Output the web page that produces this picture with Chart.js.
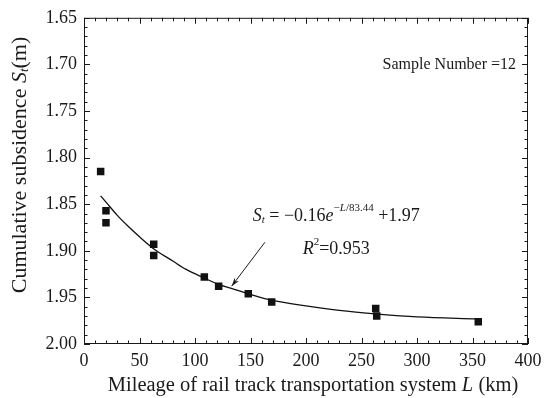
<!DOCTYPE html>
<html>
<head>
<meta charset="utf-8">
<script src="https://cdn.jsdelivr.net/npm/chart.js@4"></script>
<style>
  body { margin: 0; background: #fff; }
  #wrap { width: 548px; height: 398px; }
</style>
</head>
<body>
<div id="wrap"><canvas id="chart" width="548" height="398"></canvas></div>
<script>
// Measured samples (mileage in km, cumulative subsidence in m)
const mileage = [15.0, 19.8, 19.8, 62.8, 62.8, 108.4, 121.3, 148.0, 169.1, 262.8, 263.7, 355.2];
const subsidence = [1.815, 1.857, 1.870, 1.893, 1.905, 1.928, 1.938, 1.946, 1.955, 1.962, 1.970, 1.976];

// Fitted curve
const fitL = [15, 20, 30, 40, 50, 63, 80, 92, 108, 121, 132, 148, 169, 200, 230, 265, 300, 354];
const fitS = [1.841, 1.848, 1.862, 1.874, 1.885, 1.898, 1.911, 1.920, 1.929, 1.936, 1.940, 1.946, 1.953, 1.959, 1.964, 1.968, 1.971, 1.973];

// Axis ticks
const xTicks = [0, 50, 100, 150, 200, 250, 300, 350, 400];
const yTicks = [1.65, 1.70, 1.75, 1.80, 1.85, 1.90, 1.95, 2.00];

const FONT = '"Liberation Serif", "Times New Roman", serif';
const INK = '#1a1a1a';

function toPoints(xs, ys) {
  return xs.map((x, i) => ({ x: x, y: ys[i] }));
}

// draws text pieces one after another: [text, italic, shift, size]
function drawRuns(ctx, runs, x, y) {
  runs.forEach(r => {
    ctx.font = (r[1] ? 'italic ' : '') + r[3] + 'px ' + FONT;
    ctx.fillText(r[0], x, y + r[2]);
    x += ctx.measureText(r[0]).width;
  });
  return x;
}
function runsWidth(ctx, runs) {
  let w = 0;
  runs.forEach(r => {
    ctx.font = (r[1] ? 'italic ' : '') + r[3] + 'px ' + FONT;
    w += ctx.measureText(r[0]).width;
  });
  return w;
}

const decorations = {
  id: 'decorations',
  afterDraw(chart) {
    const ctx = chart.ctx;
    const a = chart.chartArea;
    const xs = chart.scales.x;
    const ys = chart.scales.y;
    ctx.save();
    ctx.strokeStyle = INK;
    ctx.fillStyle = INK;
    ctx.lineWidth = 1;

    // frame
    ctx.strokeRect(a.left + 0.5, a.top + 0.5, a.right - a.left - 1, a.bottom - a.top - 1);

    // inward ticks on all four sides
    ctx.beginPath();
    for (let v = 0; v <= 400; v += 10) {
      const px = Math.round(xs.getPixelForValue(v)) + 0.5;
      const len = v % 50 === 0 ? 6 : 3.5;
      ctx.moveTo(px, a.bottom); ctx.lineTo(px, a.bottom - len);
      ctx.moveTo(px, a.top); ctx.lineTo(px, a.top + len);
    }
    for (let k = 165; k <= 200; k++) {
      const py = Math.round(ys.getPixelForValue(k / 100)) + 0.5;
      const len = k % 5 === 0 ? 6 : 3.5;
      ctx.moveTo(a.left, py); ctx.lineTo(a.left + len, py);
      ctx.moveTo(a.right, py); ctx.lineTo(a.right - len, py);
    }
    ctx.stroke();

    ctx.textBaseline = 'middle';
    ctx.textAlign = 'left';

    // sample count
    ctx.font = '16px ' + FONT;
    ctx.fillText('Sample Number =12', xs.getPixelForValue(269), ys.getPixelForValue(1.70));

    // fitted equation
    drawRuns(ctx, [
      ['S', true, 0, 18], ['t', true, 4, 11], [' = \u22120.16', false, 0, 18],
      ['e', true, 0, 18], ['\u2212', false, -8, 11], ['L', true, -8, 11], ['/83.44', false, -8, 11],
      [' +1.97', false, 0, 18]
    ], xs.getPixelForValue(152), ys.getPixelForValue(1.863));

    drawRuns(ctx, [
      ['R', true, 0, 18], ['2', false, -7, 11], ['=0.953', false, 0, 18]
    ], xs.getPixelForValue(197), ys.getPixelForValue(1.898));

    // arrow pointing at the curve
    const x0 = xs.getPixelForValue(163), y0 = ys.getPixelForValue(1.8908);
    const x1 = xs.getPixelForValue(133), y1 = ys.getPixelForValue(1.938);
    const ang = Math.atan2(y1 - y0, x1 - x0);
    ctx.beginPath();
    ctx.moveTo(x0, y0); ctx.lineTo(x1, y1);
    ctx.stroke();
    ctx.beginPath();
    ctx.moveTo(x1, y1);
    ctx.lineTo(x1 - 9 * Math.cos(ang - 0.3), y1 - 9 * Math.sin(ang - 0.3));
    ctx.lineTo(x1 - 6 * Math.cos(ang), y1 - 6 * Math.sin(ang));
    ctx.lineTo(x1 - 9 * Math.cos(ang + 0.3), y1 - 9 * Math.sin(ang + 0.3));
    ctx.closePath();
    ctx.fill();

    // x axis title
    const xRuns = [['Mileage of rail track transportation system ', false, 0, 20.5], ['L', true, 0, 20.5], [' (km)', false, 0, 20.5]];
    const xw = runsWidth(ctx, xRuns);
    drawRuns(ctx, xRuns, (a.left + a.right) / 2 + 7 - xw / 2, 386);

    // y axis title
    const yRuns = [['Cumulative subsidence ', false, 0, 22], ['S', true, 0, 22], ['t', true, 5, 13], ['(m)', false, 0, 22]];
    const yw = runsWidth(ctx, yRuns);
    ctx.translate(20, 165);
    ctx.rotate(-Math.PI / 2);
    drawRuns(ctx, yRuns, -yw / 2, 0);

    ctx.restore();
  }
};

new Chart(document.getElementById('chart'), {
  type: 'scatter',
  data: {
    datasets: [
      {
        label: 'Measured',
        data: toPoints(mileage, subsidence),
        pointStyle: 'rect',
        pointRadius: 5.3,
        pointHoverRadius: 5.3,
        backgroundColor: '#111',
        borderColor: '#111',
        borderWidth: 0
      },
      {
        label: 'Fit',
        type: 'line',
        data: toPoints(fitL, fitS),
        showLine: true,
        pointRadius: 0,
        borderColor: '#111',
        borderWidth: 1.3,
        cubicInterpolationMode: 'monotone',
        fill: false
      }
    ]
  },
  options: {
    responsive: false,
    animation: false,
    layout: { padding: { top: 14, right: 20, left: 0, bottom: 0 } },
    plugins: {
      legend: { display: false },
      tooltip: { enabled: false }
    },
    scales: {
      x: {
        type: 'linear',
        min: 0,
        max: 400,
        afterFit: s => { s.height = 54; },
        afterBuildTicks: s => { s.ticks = xTicks.map(v => ({ value: v })); },
        grid: { display: false, drawTicks: false },
        border: { display: false },
        ticks: {
          padding: 6,
          color: INK,
          font: { family: FONT, size: 18 },
          maxRotation: 0,
          callback: v => String(v)
        }
      },
      y: {
        type: 'linear',
        reverse: true,
        min: 1.65,
        max: 2.00,
        afterFit: s => { s.width = 84; },
        afterBuildTicks: s => { s.ticks = yTicks.map(v => ({ value: v })); },
        grid: { display: false, drawTicks: false },
        border: { display: false },
        ticks: {
          padding: 7,
          color: INK,
          font: { family: FONT, size: 18 },
          callback: v => Number(v).toFixed(2)
        }
      }
    }
  },
  plugins: [decorations]
});
</script>
</body>
</html>
